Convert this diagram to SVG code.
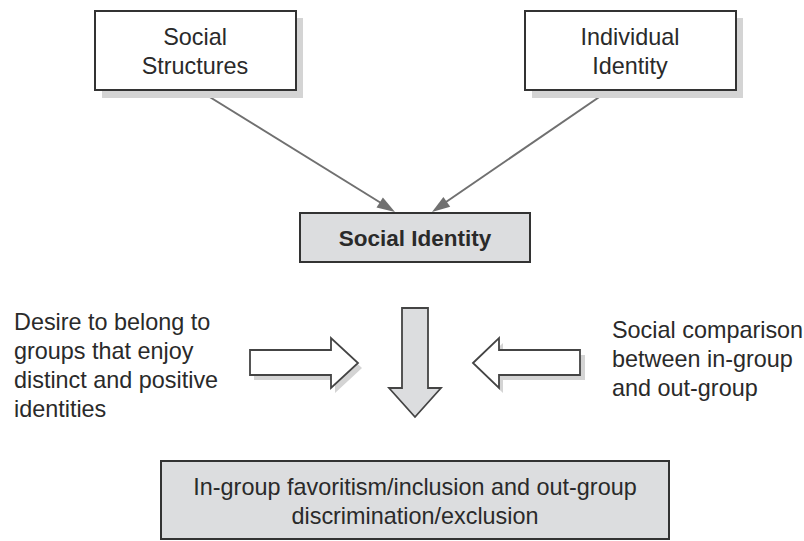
<svg xmlns="http://www.w3.org/2000/svg" width="804" height="541" viewBox="0 0 804 541">
<style>
.t{font-family:"Liberation Sans",Arial,sans-serif;font-size:23.4px;fill:#2a2a2a}
.c{text-anchor:middle}
.b{font-weight:bold;font-size:22.5px}
.box{stroke:#333;stroke-width:2}
.sh{fill:#d4d4d4}
.ln{stroke:#707070;stroke-width:2;fill:none}
.ah{fill:#707070}
.ba{stroke:#444;stroke-width:1.8;stroke-linejoin:miter}
</style>
<rect width="804" height="541" fill="#fff"/>
<g id="connectors">
<line class="ln" x1="200" y1="91" x2="381" y2="203"/>
<polygon class="ah" points="395,212 376.5,207.6 382.9,197.4"/>
<line class="ln" x1="608" y1="91" x2="446" y2="202"/>
<polygon class="ah" points="432,212 443.4,196.9 450.2,206.7"/>
</g>
<g id="social-structures">
<rect class="sh" x="102" y="18" width="201" height="80"/>
<rect class="box" x="95" y="11" width="201" height="79" fill="#fff"/>
<text class="t c" x="195" y="45">Social</text>
<text class="t c" x="195" y="74">Structures</text>
</g>
<g id="individual-identity">
<rect class="sh" x="532" y="18" width="211" height="80"/>
<rect class="box" x="525" y="11" width="211" height="79" fill="#fff"/>
<text class="t c" x="630" y="45">Individual</text>
<text class="t c" x="630" y="74">Identity</text>
</g>
<g id="social-identity">
<rect class="box" x="300" y="213" width="230" height="49" fill="#dcdddf"/>
<text class="t c b" x="415" y="246">Social Identity</text>
</g>
<g id="desire">
<path class="sh" d="M254,355 H335 V343 L362,368 L335,393 V380 H254 z"/>
<path class="ba" fill="#fff" d="M250,350 H331 V338 L358,363 L331,388 V375 H250 z"/>
<text class="t" x="14" y="330">Desire to belong to</text>
<text class="t" x="14" y="359">groups that enjoy</text>
<text class="t" x="14" y="388">distinct and positive</text>
<text class="t" x="14" y="417">identities</text>
</g>
<g id="down-arrow">
<path class="ba" fill="#dcdddf" d="M402,308 H428 V388 H441 L415,417 L389,388 H402 z"/>
</g>
<g id="comparison">
<path class="sh" d="M477,368 L503,343 V355 H585 V380 H503 V393 z"/>
<path class="ba" fill="#fff" d="M473,363 L499,338 V350 H580 V375 H499 V388 z"/>
<text class="t" x="612" y="338">Social comparison</text>
<text class="t" x="612" y="367">between in-group</text>
<text class="t" x="612" y="396">and out-group</text>
</g>
<g id="outcome">
<rect class="box" x="161" y="461" width="508" height="78" fill="#dcdddf"/>
<text class="t c" x="415" y="495">In-group favoritism/inclusion and out-group</text>
<text class="t c" x="415" y="524">discrimination/exclusion</text>
</g>
</svg>
